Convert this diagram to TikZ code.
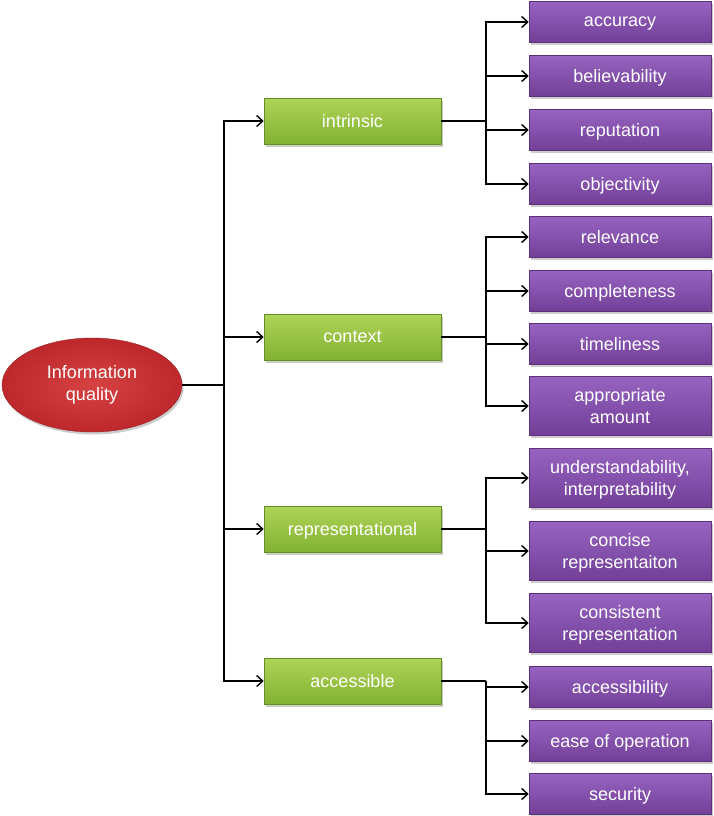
\documentclass[tikz,border=0pt]{standalone}
\usepackage{fontspec}
\setmainfont{Liberation Sans}
\usepackage{tikz}
\usetikzlibrary{calc}
\usetikzlibrary{arrows.meta}
\usetikzlibrary{shadows}
\usetikzlibrary{shapes.geometric}

\definecolor{purTop}{RGB}{150,100,192}
\definecolor{purBot}{RGB}{114,62,152}
\definecolor{grnTop}{RGB}{174,212,88}
\definecolor{grnBot}{RGB}{130,178,50}
\definecolor{redIn}{RGB}{214,66,66}
\definecolor{redOut}{RGB}{190,40,44}

\tikzset{
  leaf/.style={draw=purBot!80!black, line width=0.6pt, top color=purTop, bottom color=purBot,
    text=white, minimum width=182pt, minimum height=41pt, align=center, text depth=1pt,
    drop shadow={opacity=0.4, shadow xshift=1.5pt, shadow yshift=-2.5pt},
    font=\fontsize{18}{22}\selectfont},
  dim/.style={draw=grnBot!80!black, line width=0.6pt, top color=grnTop, bottom color=grnBot,
    text=white, minimum width=177pt, minimum height=46pt, align=center, text depth=1pt,
    drop shadow={opacity=0.4, shadow xshift=1.5pt, shadow yshift=-2.5pt},
    font=\fontsize{18}{22}\selectfont},
  link/.style={line width=1.4pt, -{Straight Barb[length=6pt,width=11pt]}},
  stem/.style={line width=2.2pt}
}

\begin{document}
\begin{tikzpicture}[x=1pt, y=-1pt]
    \useasboundingbox (0,0) rectangle (713,816);
    % root
    \node[ellipse, draw=redOut!80!black, shading=radial, inner color=redIn, outer color=redOut,
      minimum width=180pt, minimum height=94pt, align=center, text=white,
      drop shadow={opacity=0.4, shadow xshift=1.5pt, shadow yshift=-2.5pt},
      font=\fontsize{18}{22}\selectfont] (iq) at (92,385) {Information\\quality};
    % dimensions
    \node[dim] (intr) at (352.5,121) {intrinsic};
    \node[dim] (ctx) at (352.5,337) {context};
    \node[dim] (rep) at (352.5,529) {representational};
    \node[dim] (acc) at (352.5,681) {accessible};
    % intrinsic
    \node[leaf] (accu) at (620,22) {accuracy};
    \node[leaf] (beli) at (620,76) {believability};
    \node[leaf] (repu) at (620,130) {reputation};
    \node[leaf] (obje) at (620,184) {objectivity};
    % context
    \node[leaf] (rele) at (620,237) {relevance};
    \node[leaf] (comp) at (620,291) {completeness};
    \node[leaf] (time) at (620,344) {timeliness};
    \node[leaf, minimum height=59pt] (appr) at (620,406) {appropriate\\amount};
    % representational
    \node[leaf, minimum height=59pt] (unde) at (620,478) {understandability,\\interpretability};
    \node[leaf, minimum height=59pt] (conc) at (620,551) {concise\\representaiton};
    \node[leaf, minimum height=59pt] (cons) at (620,623) {consistent\\representation};
    % accessible
    \node[leaf] (acce) at (620,687) {accessibility};
    \node[leaf] (ease) at (620,741) {ease of operation};
    \node[leaf] (secu) at (620,794) {security};

    \coordinate (t) at (224,385);
    \draw[stem] (iq.east) -- (t);
    \draw[line width=1.4pt] ($(t)+(0,-264)$) -- ($(t)+(0,296)$);
    \foreach \g in {intr,ctx,rep,acc}
      \draw[link] (t) |- (\g.west);

    \coordinate (b1) at (486,121);
    \coordinate (b2) at (486,337);
    \coordinate (b3) at (486,529);
    \coordinate (b4) at (486,681);
    \draw[stem] (intr.east) -- (b1);
    \draw[stem] (ctx.east) -- (b2);
    \draw[stem] (rep.east) -- (b3);
    \draw[stem] (acc.east) -- (b4);
    \foreach \c in {accu,beli,repu,obje}
      \draw[link] (b1) |- (\c.west);
    \foreach \c in {rele,comp,time,appr}
      \draw[link] (b2) |- (\c.west);
    \foreach \c in {unde,conc,cons}
      \draw[link] (b3) |- (\c.west);
    \foreach \c in {acce,ease,secu}
      \draw[link] (b4) |- (\c.west);
  \end{tikzpicture}
\end{document}
